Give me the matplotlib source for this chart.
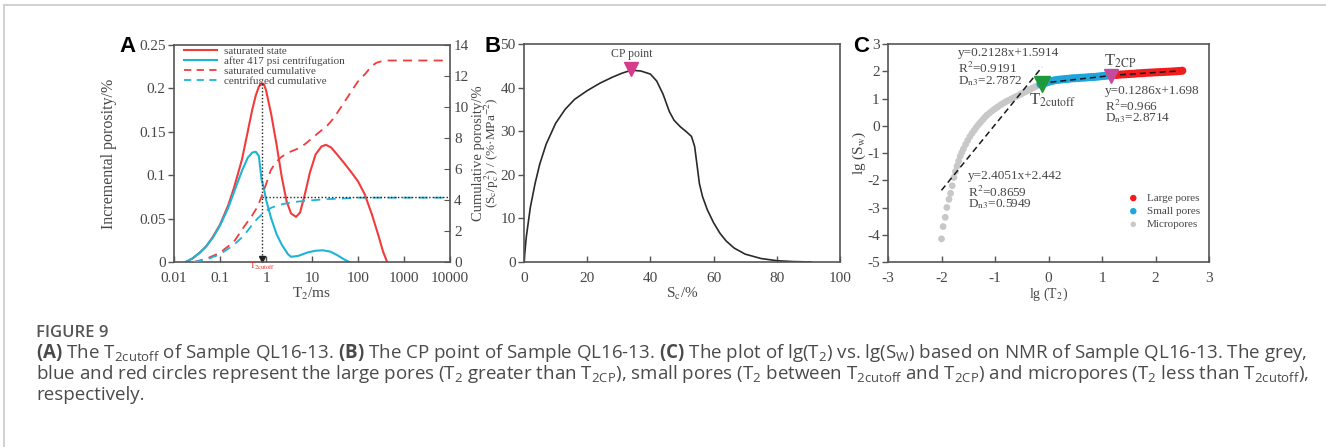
import matplotlib
matplotlib.use("Agg")
import matplotlib.pyplot as plt
from matplotlib.lines import Line2D
import numpy as np

plt.rcParams['font.family'] = ['Liberation Serif', 'DejaVu Serif']
plt.rcParams['mathtext.fontset'] = 'stix'
plt.rcParams['mathtext.rm'] = 'Open Sans'
plt.rcParams['mathtext.bf'] = 'Open Sans:bold'
plt.rcParams['axes.unicode_minus'] = False

TXT = '#474747'
SPINE = '#555555'

# ---------------- Panel A data ----------------
sat_t = [0.018, 0.025, 0.035, 0.05, 0.07, 0.1, 0.15, 0.2, 0.3, 0.4, 0.5, 0.6, 0.7, 0.8, 0.9, 1.0,
         1.3, 1.7, 2.2, 2.8, 3.5, 4.5, 5.5, 7, 9, 12, 16, 20, 26, 35, 50, 70, 100, 140, 200, 280, 350, 430]
sat_v = [0.0, 0.004, 0.010, 0.018, 0.029, 0.043, 0.065, 0.085, 0.118, 0.150, 0.175, 0.192, 0.202, 0.206,
         0.205, 0.198, 0.170, 0.135, 0.098, 0.070, 0.056, 0.052, 0.057, 0.078, 0.103, 0.124, 0.133, 0.135,
         0.132, 0.124, 0.114, 0.104, 0.093, 0.078, 0.055, 0.030, 0.012, 0.0]
cen_t = [0.018, 0.025, 0.035, 0.05, 0.07, 0.1, 0.15, 0.2, 0.3, 0.4, 0.5, 0.6, 0.7, 0.8, 0.9, 1.0,
         1.3, 1.7, 2.2, 3.0, 3.5, 5, 8, 12, 17, 25, 35, 50, 65]
cen_v = [0.0, 0.004, 0.010, 0.018, 0.028, 0.042, 0.062, 0.080, 0.105, 0.120, 0.126, 0.127, 0.122,
         0.095, 0.085, 0.072, 0.050, 0.032, 0.020, 0.009, 0.006, 0.007, 0.011, 0.013, 0.0135, 0.012,
         0.008, 0.003, 0.0]
satc_t = [0.027, 0.05, 0.1, 0.2, 0.33, 0.5, 0.65, 0.9, 1.26, 1.6, 2.1, 3, 4.8, 7, 9.3, 14, 21.5, 30,
          50, 97, 150, 190, 250, 370, 1000, 10000]
satc_v = [0.0, 0.2, 0.6, 1.3, 2.26, 3.0, 3.55, 4.6, 5.9, 6.4, 6.75, 7.05, 7.3, 7.6, 7.9, 8.35, 8.8,
          9.3, 10.3, 11.6, 12.2, 12.6, 12.85, 13.0, 13.0, 13.0]
cenc_t = [0.027, 0.05, 0.1, 0.2, 0.33, 0.5, 0.65, 0.8, 1.0, 1.3, 2.0, 3, 5, 10, 20, 50, 100, 1000, 10000]
cenc_v = [0.0, 0.15, 0.5, 1.1, 1.7, 2.4, 2.8, 3.05, 3.3, 3.5, 3.7, 3.8, 3.9, 3.98, 4.05, 4.1, 4.15,
          4.15, 4.15]
t2_cutoff = 0.83
cutoff_peak = 0.206
cutoff_cum = 4.2

# ---------------- Panel B data ----------------
sc = [0, 0.7, 2, 3.5, 5, 7, 10, 13, 16, 20, 24, 28, 31, 34, 37, 40, 42, 44, 46, 47.5, 49.5, 51.5,
      53, 54, 54.8, 55.5, 56.5, 58, 60, 62, 64, 66.5, 70, 75, 80, 85, 91]
sc_p = [0, 5.6, 12.5, 18, 22.5, 27, 31.8, 35, 37.3, 39.3, 41, 42.4, 43.3, 44, 43.8, 43.1, 41.5,
        38.5, 34.5, 32.5, 31, 29.8, 28.8, 26.5, 22, 18, 15, 12, 9, 6.6, 4.8, 3.2, 1.8, 0.8, 0.3,
        0.1, 0.0]
cp_x, cp_y = 34, 44.3

# ---------------- Panel C data ----------------
micro_x = [-2.00, -1.97, -1.93, -1.90, -1.86, -1.83, -1.80, -1.77, -1.74, -1.71, -1.68, -1.65, -1.62,
           -1.59, -1.55, -1.51, -1.47, -1.43, -1.39, -1.35, -1.31, -1.27, -1.23, -1.19, -1.15, -1.10,
           -1.05, -1.00, -0.95, -0.90, -0.85, -0.80, -0.75, -0.70, -0.65, -0.60, -0.55, -0.50, -0.45,
           -0.40, -0.35, -0.30, -0.25, -0.20]
micro_y = [-4.15, -3.70, -3.36, -3.00, -2.70, -2.48, -2.20, -1.90, -1.68, -1.48, -1.30, -1.12, -0.98,
           -0.85, -0.69, -0.54, -0.40, -0.28, -0.17, -0.06, 0.04, 0.13, 0.22, 0.31, 0.39, 0.47, 0.55,
           0.62, 0.69, 0.76, 0.82, 0.88, 0.93, 0.98, 1.03, 1.08, 1.13, 1.18, 1.23, 1.28, 1.33, 1.38,
           1.43, 1.48]
small_x = [-0.15, -0.10, -0.05, 0.00, 0.05, 0.10, 0.15, 0.20, 0.25, 0.30, 0.35, 0.40, 0.45, 0.50,
           0.55, 0.60, 0.65, 0.70, 0.75, 0.80, 0.85, 0.90, 0.95, 1.00, 1.05, 1.10, 1.15]
small_y = [1.52, 1.55, 1.58, 1.61, 1.64, 1.66, 1.68, 1.69, 1.70, 1.71, 1.72, 1.73, 1.74, 1.745, 1.75,
           1.76, 1.765, 1.77, 1.78, 1.785, 1.79, 1.80, 1.81, 1.82, 1.83, 1.84, 1.85]
large_x = [1.20, 1.25, 1.30, 1.35, 1.40, 1.45, 1.50, 1.55, 1.60, 1.65, 1.70, 1.75, 1.80, 1.85, 1.90,
           1.95, 2.00, 2.05, 2.10, 2.15, 2.20, 2.25, 2.30, 2.35, 2.40, 2.45, 2.50]
large_y = [1.86, 1.865, 1.87, 1.88, 1.885, 1.89, 1.90, 1.905, 1.91, 1.92, 1.925, 1.93, 1.94, 1.945,
           1.95, 1.955, 1.96, 1.965, 1.97, 1.975, 1.98, 1.985, 1.99, 1.995, 2.00, 2.01, 2.02]
fit_micro = (2.4051, 2.442, -2.0, -0.12)
fit_small = (0.2128, 1.5914, -0.15, 1.15)
fit_large = (0.1286, 1.698, 1.15, 2.45)
cutoff_pt = (-0.13, 1.55)
cp_pt = (1.17, 1.84)

W, H = 1326, 447
fig = plt.figure(figsize=(W / 100, H / 100), dpi=100)


def rect(l, r, t, b):
    return [l / W, 1 - b / H, (r - l) / W, (b - t) / H]


def style(ax):
    for s in ax.spines.values():
        s.set_color(SPINE)
        s.set_linewidth(1.2)
    ax.tick_params(axis='both', colors=SPINE, labelcolor=TXT, labelsize=11, width=1.0)
    ax.tick_params(axis='x', direction='in', length=4, pad=7)
    ax.tick_params(axis='y', direction='out', length=4, pad=2)


# ---------------- Panel A ----------------
axA = fig.add_axes(rect(174, 450, 45, 262))
style(axA)
axA.set_xscale('log')
axA.set_xlim(0.01, 10000)
axA.set_ylim(0, 0.25)
axA.set_xticks([0.01, 0.1, 1, 10, 100, 1000, 10000])
axA.set_xticklabels(['0.01', '0.1', '1', '10', '100', '1000', '10000'])
axA.xaxis.set_minor_locator(matplotlib.ticker.NullLocator())
axA.set_yticks([0, 0.05, 0.1, 0.15, 0.2, 0.25])
axA.set_yticklabels(['0', '0.05', '0.1', '0.15', '0.2', '0.25'])
axA.plot(sat_t, sat_v, color='#f03c3c', lw=1.5)
axA.plot(cen_t, cen_v, color='#1fb3d8', lw=1.5)
axA.plot([t2_cutoff, t2_cutoff], [0, cutoff_peak], color='#222222', lw=1.0, ls=(0, (1, 1.5)))
axA.plot([t2_cutoff], [0.004], marker='v', color='#222222', ms=4)
axB2 = axA.twinx()
for s in axB2.spines.values():
    s.set_visible(False)
axB2.set_ylim(0, 14)
axB2.set_yticks(range(0, 15, 2))
axB2.tick_params(axis='y', direction='in', length=4, colors=SPINE, labelcolor=TXT, labelsize=11, pad=3)
axB2.plot(satc_t, satc_v, color='#f03c3c', lw=1.3, ls=(0, (5, 3.5)))
axB2.plot(cenc_t, cenc_v, color='#1fb3d8', lw=1.3, ls=(0, (5, 3.5)))
axB2.plot([t2_cutoff, 10000], [cutoff_cum, cutoff_cum], color='#222222', lw=1.0, ls=(0, (1, 1.5)))
axA.set_ylabel('Incremental porosity/%', fontsize=11.5, color=TXT)
axA.yaxis.set_label_coords(-0.205, 0.5)
axB2.set_ylabel('Cumulative porosity/%', fontsize=10.5, color=TXT)
axB2.yaxis.set_label_coords(1.078, 0.5)
axA.set_xlabel('T$_2$/ms', fontsize=11, color=TXT, labelpad=1)
axA.text(t2_cutoff, -0.005, r'T$_{\mathrm{2cutoff}}$', color='#e8322a', fontsize=6.5,
         ha='center', va='center')
handles = [Line2D([], [], color='#f03c3c', lw=1.5),
           Line2D([], [], color='#1fb3d8', lw=1.5),
           Line2D([], [], color='#f03c3c', lw=1.3, ls=(0, (4, 3))),
           Line2D([], [], color='#1fb3d8', lw=1.3, ls=(0, (4, 3)))]
leg = axA.legend(handles, ['saturated state', 'after 417 psi centrifugation',
                           'saturated cumulative', 'centrifuged cumulative'],
                 loc='upper left', bbox_to_anchor=(0.02, 1.015), frameon=False, fontsize=8,
                 handlelength=3.0, handletextpad=0.6, labelspacing=0.02, borderaxespad=0)
for t in leg.get_texts():
    t.set_color(TXT)
fig.text(128 / W, 1 - 47 / H, 'A', fontsize=16, fontweight='bold', family='Liberation Sans',
         ha='center', va='center', color='black')

# ---------------- Panel B ----------------
axB = fig.add_axes(rect(524, 840, 44, 262))
style(axB)
axB.set_xlim(0, 100)
axB.set_ylim(0, 50)
axB.set_xticks(range(0, 101, 20))
axB.set_yticks(range(0, 51, 10))
axB.plot(sc, sc_p, color='#2a2a2a', lw=1.2)
axB.plot([cp_x], [cp_y], marker='v', color='#d43d8c', ms=10, mec='#d43d8c')
axB.text(cp_x, 47.8, 'CP point', fontsize=8.5, ha='center', va='center', color=TXT)
axB.set_ylabel('(S$_\\mathrm{c}$/p$_\\mathrm{c}^{\\,2}$) / (%·MPa$^{-2}$)', fontsize=9.5, color=TXT)
axB.yaxis.set_label_coords(-0.072, 0.5)
axB.set_xlabel('S$_\\mathrm{c}$/%', fontsize=11, color=TXT, labelpad=1)
fig.text(493 / W, 1 - 47 / H, 'B', fontsize=16, fontweight='bold', family='Liberation Sans',
         ha='center', va='center', color='black')

# ---------------- Panel C ----------------
axC = fig.add_axes(rect(888, 1209, 44, 262))
style(axC)
axC.set_xlim(-3, 3)
axC.set_ylim(-5, 3)
axC.set_xticks(range(-3, 4))
axC.set_yticks(range(-5, 4))
axC.scatter(micro_x, micro_y, s=24, color='#c8c8c8', edgecolors='none', zorder=2, label='Micropores')
axC.scatter(small_x, small_y, s=34, color='#1ea6dc', edgecolors='none', zorder=2, label='Small pores')
axC.scatter(large_x, large_y, s=34, color='#f21c1c', edgecolors='none', zorder=2, label='Large pores')
for k, b, x0, x1 in (fit_micro, fit_small, fit_large):
    axC.plot([x0, x1], [k * x0 + b, k * x1 + b], color='#1a1a1a', lw=1.1, ls=(0, (4, 2.5)), zorder=3)
axC.plot([cutoff_pt[0]], [cutoff_pt[1]], marker='v', color='#1e9a3c', ms=11, zorder=4)
axC.plot([cp_pt[0]], [cp_pt[1]], marker='v', color='#c44b9c', ms=10, zorder=4)
fs = 9.5
axC.text(-1.70, 2.67, 'y=0.2128x+1.5914', fontsize=fs, color=TXT, va='center')
axC.text(-1.70, 2.10, 'R$^2$=0.9191', fontsize=fs, color=TXT, va='center')
axC.text(-1.70, 1.65, 'D$_\\mathrm{n3}$=2.7872', fontsize=fs, color=TXT, va='center')
axC.text(1.06, 1.28, 'y=0.1286x+1.698', fontsize=fs, color=TXT, va='center')
axC.text(1.06, 0.72, 'R$^2$=0.966', fontsize=fs, color=TXT, va='center')
axC.text(1.06, 0.27, 'D$_\\mathrm{n3}$=2.8714', fontsize=fs, color=TXT, va='center')
axC.text(-1.51, -1.83, 'y=2.4051x+2.442', fontsize=fs, color=TXT, va='center')
axC.text(-1.51, -2.44, 'R$^2$=0.8659', fontsize=fs, color=TXT, va='center')
axC.text(-1.51, -2.88, 'D$_\\mathrm{n3}$=0.5949', fontsize=fs, color=TXT, va='center')
axC.text(-0.36, 0.95, 'T$_\\mathrm{2cutoff}$', fontsize=12, color=TXT, va='center')
axC.text(1.04, 2.38, 'T$_\\mathrm{2CP}$', fontsize=12, color=TXT, va='center')
h, l = axC.get_legend_handles_labels()
legC = axC.legend(h[::-1], l[::-1], loc='lower right', bbox_to_anchor=(0.985, 0.13), frameon=False,
                  fontsize=8, handletextpad=0.2, labelspacing=0.3, markerscale=0.8, borderaxespad=0)
for t in legC.get_texts():
    t.set_color(TXT)
axC.set_ylabel('lg (S$_\\mathrm{w}$)', fontsize=11, color=TXT)
axC.yaxis.set_label_coords(-0.062, 0.5)
axC.set_xlabel('lg (T$_\\mathrm{2}$)', fontsize=10, color=TXT, labelpad=1)
fig.text(861 / W, 1 - 47 / H, 'C', fontsize=16, fontweight='bold', family='Liberation Sans',
         ha='center', va='center', color='black')

# ---------------- Frame and caption ----------------
fig.add_artist(Line2D([4 / W, 1], [1 - 4.5 / H, 1 - 4.5 / H], color='#d2d2d2', lw=1.5))
fig.add_artist(Line2D([4 / W, 4 / W], [0, 1 - 4.5 / H], color='#d2d2d2', lw=1.5))

CAP = '#4a4a4a'
fig.text(36 / W, 1 - 333 / H, 'FIGURE 9', fontsize=12, fontweight='semibold', family='Open Sans',
         color='#555555', va='center')
cap1 = (r'$\mathbf{(A)}$ The T$_{\mathrm{2cutoff}}$ of Sample QL16-13. $\mathbf{(B)}$ The CP point of '
        r'Sample QL16-13. $\mathbf{(C)}$ The plot of lg(T$_{\mathrm{2}}$) vs. lg(S$_{\mathrm{W}}$) based '
        r'on NMR of Sample QL16-13. The grey,')
cap2 = (r'blue and red circles represent the large pores (T$_{\mathrm{2}}$ greater than T$_{\mathrm{2CP}}$), '
        r'small pores (T$_{\mathrm{2}}$ between T$_{\mathrm{2cutoff}}$ and T$_{\mathrm{2CP}}$) and '
        r'micropores (T$_{\mathrm{2}}$ less than T$_{\mathrm{2cutoff}}$),')
cap3 = 'respectively.'
for y, s in ((353, cap1), (374, cap2), (395, cap3)):
    fig.text(36 / W, 1 - y / H, s, fontsize=13.5, family='Open Sans', color=CAP, va='center',
             math_fontfamily='custom')

fig.savefig('out.png', dpi=100)
